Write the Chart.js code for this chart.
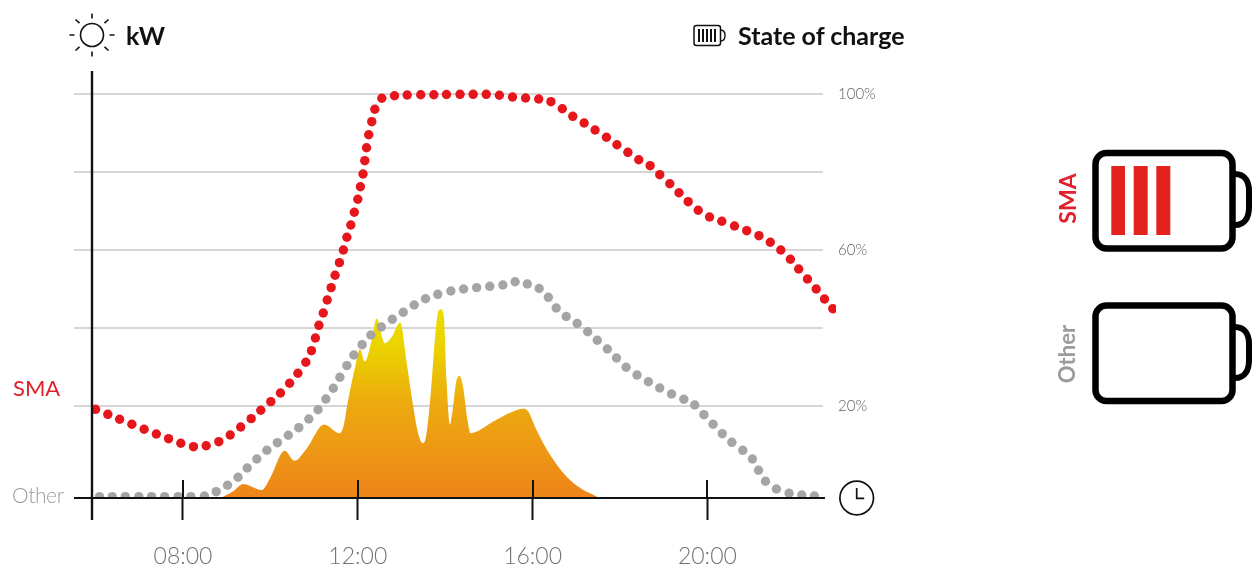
<!DOCTYPE html>
<html>
<head>
<meta charset="utf-8">
<title>State of charge</title>
<script src="https://cdn.jsdelivr.net/npm/chart.js@4/dist/chart.umd.js"></script>
<style>
  html, body { margin: 0; padding: 0; background: #fff; overflow: hidden; }
  #wrap { position: relative; width: 1255px; height: 565px; font-family: Lato, sans-serif; }
  #chart { position: absolute; left: 0; top: 0; }
  svg.icons { position: absolute; left: 0; top: 0; }
  .label { position: absolute; line-height: 1; white-space: nowrap; }
  .title { font-weight: 700; font-size: 25px; color: #111; }
  .red { color: #e2202c; }
  .grey { color: #9c9c9c; }
  .side { font-size: 23px; transform: rotate(-90deg); transform-origin: center center; }
</style>
</head>
<body>
<div id="wrap">
  <canvas id="chart" width="1255" height="565"></canvas>

  <svg class="icons" width="1255" height="565" fill="none" stroke="#111">
    <!-- sun -->
    <circle cx="92" cy="35" r="11.5" stroke-width="1.6"/>
    <path stroke-width="1.6" d="M92 13.5v5M92 51.5v5M69.5 35h5M109.5 35h5M75.5 19.5l4 3.6M108.5 19.5l-4 3.6M75.5 50.5l4-3.6M108.5 50.5l-4-3.6"/>
    <!-- small battery -->
    <rect x="694" y="25.5" width="26.5" height="20" rx="2.5" stroke-width="1.5"/>
    <path stroke-width="1.4" d="M720.5 30c3.5 0 4.5 2 4.5 5.5s-1 5.5-4.5 5.5"/>
    <path stroke-width="2" d="M699 29v13M703 29v13M707 29v13M711 29v13M715 29v13"/>
    <!-- clock -->
    <circle cx="856.7" cy="498" r="16.8" stroke-width="1.7"/>
    <path stroke-width="1.7" d="M856.7 488v10.3h7.5"/>
    <!-- side batteries -->
    <rect x="1095.5" y="153" width="137" height="95.5" rx="11" stroke="#000" stroke-width="6.5"/>
    <path stroke="#000" stroke-width="6" d="M1235 174c10 0 14 8 14 17v16c0 10-4 18-14 18"/>
    <rect x="1111.3" y="166" width="13.7" height="69" fill="#e3211d" stroke="none"/>
    <rect x="1133.7" y="166" width="14" height="69" fill="#e3211d" stroke="none"/>
    <rect x="1156.3" y="166" width="14" height="69" fill="#e3211d" stroke="none"/>
    <rect x="1095.5" y="305.5" width="137" height="95.5" rx="11" stroke="#000" stroke-width="6.5"/>
    <path stroke="#000" stroke-width="6" d="M1235 327c10 0 14 8 14 17v16c0 10-4 18-14 18"/>
  </svg>

  <span class="label title" style="left:126px;top:23px">kW</span>
  <span class="label title" style="left:738px;top:23px">State of charge</span>
  <span class="label red" style="left:13px;top:377px;font-size:22px;font-weight:400">SMA</span>
  <span class="label grey" style="left:12px;top:484px;font-size:21px;font-weight:300;letter-spacing:-0.4px">Other</span>
  <span class="label side red" style="left:1042px;top:187px;font-weight:700">SMA</span>
  <span class="label side grey" style="left:1038px;top:343px;font-size:22px;font-weight:700">Other</span>
</div>

<script>
// time axis
var hourMin = 5.506;
var hourMax = 22.989;
var axisHour = 5.92;
var gridEndHour = 22.645;
var baselineEndHour = 22.691;
var tickHours = [8, 12, 16, 20];
var tickLabels = ['08:00', '12:00', '16:00', '20:00'];

// state of charge axis, the baseline sits a little under the regular grid
var socMin = -3.59;
var socMax = 100;
var gridTicks = [100, 80, 60, 40, 20];
var labelledTicks = [100, 60, 20];

// pv power, no numbers on this axis in the picture
var kwMin = 0;
var kwMax = 10.1;

var smaHours = [6.00, 6.28, 6.55, 6.83, 7.11, 7.39, 7.67, 7.95, 8.24, 8.53, 8.82, 9.08, 9.32, 9.56, 9.78, 10.01, 10.23, 10.44, 10.63, 10.81, 10.94, 11.03, 11.11, 11.21, 11.30, 11.39, 11.48, 11.58, 11.67, 11.75, 11.84, 11.92, 12.00, 12.06, 12.12, 12.16, 12.20, 12.25, 12.32, 12.39, 12.55, 12.84, 13.13, 13.44, 13.74, 14.03, 14.34, 14.64, 14.94, 15.24, 15.54, 15.84, 16.14, 16.42, 16.68, 16.92, 17.18, 17.43, 17.69, 17.93, 18.18, 18.43, 18.69, 18.91, 19.14, 19.35, 19.56, 19.79, 20.05, 20.33, 20.62, 20.90, 21.18, 21.44, 21.68, 21.90, 22.09, 22.29, 22.49, 22.68, 22.87];
var smaSoc = [19.15, 17.87, 16.59, 15.31, 14.03, 12.82, 11.62, 10.44, 9.57, 9.82, 10.85, 12.57, 14.62, 16.75, 18.90, 21.11, 23.34, 25.82, 28.39, 31.21, 34.18, 37.44, 40.69, 43.85, 47.18, 50.34, 53.52, 56.75, 60.00, 63.26, 66.41, 69.67, 73.00, 76.23, 79.49, 82.90, 86.23, 89.56, 92.90, 96.08, 98.90, 99.56, 99.74, 99.82, 99.82, 99.87, 99.92, 99.92, 99.92, 99.67, 99.23, 98.97, 98.72, 98.03, 96.23, 94.28, 92.56, 90.77, 88.90, 87.00, 85.05, 83.15, 81.62, 79.31, 77.00, 74.69, 72.39, 70.18, 68.46, 67.36, 66.16, 64.95, 63.67, 61.98, 60.00, 57.62, 55.13, 52.57, 50.00, 47.44, 44.95];

var otherHours = [6.09, 6.38, 6.68, 6.99, 7.28, 7.58, 7.89, 8.18, 8.49, 8.76, 9.02, 9.26, 9.47, 9.69, 9.92, 10.16, 10.41, 10.65, 10.88, 11.09, 11.27, 11.44, 11.59, 11.75, 11.91, 12.10, 12.30, 12.54, 12.79, 13.04, 13.29, 13.55, 13.83, 14.13, 14.42, 14.72, 15.02, 15.32, 15.60, 15.88, 16.15, 16.36, 16.54, 16.77, 17.02, 17.26, 17.48, 17.71, 17.92, 18.14, 18.39, 18.65, 18.91, 19.18, 19.46, 19.71, 19.92, 20.13, 20.34, 20.56, 20.81, 21.03, 21.17, 21.33, 21.58, 21.87, 22.16, 22.45];
var otherSoc = [-3.25, -3.25, -3.25, -3.25, -3.25, -3.25, -3.25, -3.25, -3.07, -1.97, -0.33, 1.72, 4.11, 6.41, 8.65, 10.59, 12.49, 14.44, 16.67, 19.05, 21.79, 24.54, 27.36, 30.34, 33.08, 35.72, 38.21, 40.26, 42.23, 44.03, 45.90, 47.51, 48.64, 49.49, 50.00, 50.34, 50.69, 51.03, 51.87, 51.28, 50.13, 47.87, 45.13, 42.95, 41.16, 39.05, 36.85, 34.62, 32.31, 29.93, 27.95, 26.23, 24.62, 23.08, 21.72, 20.26, 17.77, 15.31, 12.90, 10.69, 8.64, 6.41, 3.52, 0.70, -1.28, -2.38, -2.82, -3.07];

var pvHours = [8.87, 9.14, 9.38, 9.80, 9.99, 10.33, 10.55, 10.83, 11.23, 11.59, 11.67, 11.78, 11.94, 12.05, 12.16, 12.32, 12.43, 12.62, 12.78, 12.97, 13.12, 13.27, 13.38, 13.49, 13.56, 13.65, 13.77, 13.83, 13.90, 13.97, 14.03, 14.11, 14.16, 14.26, 14.33, 14.41, 14.51, 14.58, 15.10, 15.48, 15.80, 15.90, 16.09, 16.40, 16.78, 17.16, 17.47, 17.50];
var pvKw = [0, 0.16, 0.35, 0.20, 0.49, 1.18, 0.93, 1.24, 1.84, 1.62, 1.78, 2.45, 3.28, 3.72, 3.41, 3.95, 4.49, 3.87, 4.03, 4.39, 3.37, 2.28, 1.62, 1.37, 1.53, 2.37, 4.03, 4.62, 4.72, 4.53, 2.95, 1.84, 2.12, 2.95, 3.05, 2.78, 1.95, 1.62, 1.91, 2.13, 2.24, 2.16, 1.70, 1.08, 0.53, 0.20, 0.03, 0];

function toPoints(xs, ys) {
  return xs.map(function(x, i) {
    return { x: x, y: ys[i] };
  });
}

function pvGradient(context) {
  var chart = context.chart;
  if (!chart.chartArea) {
    return '#ee841a';
  }
  var kw = chart.scales.kw;
  var g = chart.ctx.createLinearGradient(0, kw.getPixelForValue(0), 0, kw.getPixelForValue(4.72));
  g.addColorStop(0, '#ee841a');
  g.addColorStop(0.5, '#edaa0f');
  g.addColorStop(0.8, '#ead300');
  g.addColorStop(1, '#eedc00');
  return g;
}

function hLine(ctx, x1, x2, y) {
  ctx.beginPath();
  ctx.moveTo(x1, y);
  ctx.lineTo(x2, y);
  ctx.stroke();
}

function vLine(ctx, x, y1, y2) {
  ctx.beginPath();
  ctx.moveTo(x, y1);
  ctx.lineTo(x, y2);
  ctx.stroke();
}

// the lines stop short of the area the dots are allowed to run into, so they are drawn here
var axisLines = {
  id: 'axisLines',
  beforeDatasetsDraw: function(chart) {
    var ctx = chart.ctx;
    var right = chart.scales.x.getPixelForValue(gridEndHour);
    ctx.save();
    ctx.strokeStyle = '#c9c9c9';
    ctx.lineWidth = 1.5;
    gridTicks.forEach(function(v) {
      hLine(ctx, chart.chartArea.left, right, Math.round(chart.scales.y.getPixelForValue(v)));
    });
    ctx.restore();
  },
  afterDatasetsDraw: function(chart) {
    var ctx = chart.ctx;
    var x = chart.scales.x;
    var bottom = chart.chartArea.bottom;
    ctx.save();
    ctx.strokeStyle = '#111';
    ctx.lineWidth = 2;
    hLine(ctx, chart.chartArea.left, x.getPixelForValue(baselineEndHour), bottom);
    tickHours.forEach(function(h) {
      vLine(ctx, Math.round(x.getPixelForValue(h)), bottom - 18, bottom);
    });
    ctx.lineWidth = 2.4;
    vLine(ctx, Math.round(x.getPixelForValue(axisHour)), 71, bottom + 22);
    ctx.restore();
  }
};

var dataClip = { left: -18, right: -2, top: 10, bottom: 0 };

new Chart(document.getElementById('chart').getContext('2d'), {
  type: 'line',
  data: {
    datasets: [
      {
        label: 'SMA',
        data: toPoints(smaHours, smaSoc),
        yAxisID: 'y',
        showLine: false,
        pointRadius: 4.7,
        pointBorderWidth: 0,
        pointBackgroundColor: '#e6161d',
        clip: dataClip,
        order: 0
      },
      {
        label: 'Other',
        data: toPoints(otherHours, otherSoc),
        yAxisID: 'y',
        showLine: false,
        pointRadius: 4.7,
        pointBorderWidth: 0,
        pointBackgroundColor: '#a5a5a5',
        clip: dataClip,
        order: 1
      },
      {
        label: 'kW',
        data: toPoints(pvHours, pvKw),
        yAxisID: 'kw',
        pointRadius: 0,
        borderWidth: 0,
        cubicInterpolationMode: 'monotone',
        fill: 'origin',
        backgroundColor: pvGradient,
        order: 2
      }
    ]
  },
  options: {
    responsive: false,
    animation: false,
    events: [],
    layout: { padding: { left: 74, right: 0, top: 94, bottom: 0 } },
    plugins: { legend: { display: false }, tooltip: { enabled: false } },
    scales: {
      x: {
        type: 'linear',
        min: hourMin,
        max: hourMax,
        afterBuildTicks: function(scale) {
          scale.ticks = tickHours.map(function(h) { return { value: h }; });
        },
        afterFit: function(scale) { scale.height = 67; },
        border: { display: false },
        grid: { drawOnChartArea: false, drawTicks: true, tickLength: 22, tickColor: '#111', tickWidth: 2 },
        ticks: {
          autoSkip: false,
          maxRotation: 0,
          padding: 23,
          color: '#727272',
          font: { family: 'Lato', size: 23, weight: '300' },
          callback: function(value) {
            return tickLabels[tickHours.indexOf(value)];
          }
        }
      },
      y: {
        position: 'right',
        min: socMin,
        max: socMax,
        afterBuildTicks: function(scale) {
          scale.ticks = gridTicks.map(function(v) { return { value: v }; });
        },
        afterFit: function(scale) { scale.width = 417; },
        border: { display: false },
        grid: { display: false, drawTicks: false },
        ticks: {
          autoSkip: false,
          padding: 0,
          color: '#5f5f5f',
          font: { family: 'Lato', size: 15, weight: '300' },
          callback: function(value) {
            return labelledTicks.indexOf(value) >= 0 ? value + '%' : '';
          }
        }
      },
      kw: {
        display: false,
        min: kwMin,
        max: kwMax
      }
    }
  },
  plugins: [axisLines]
});
</script>
</body>
</html>
